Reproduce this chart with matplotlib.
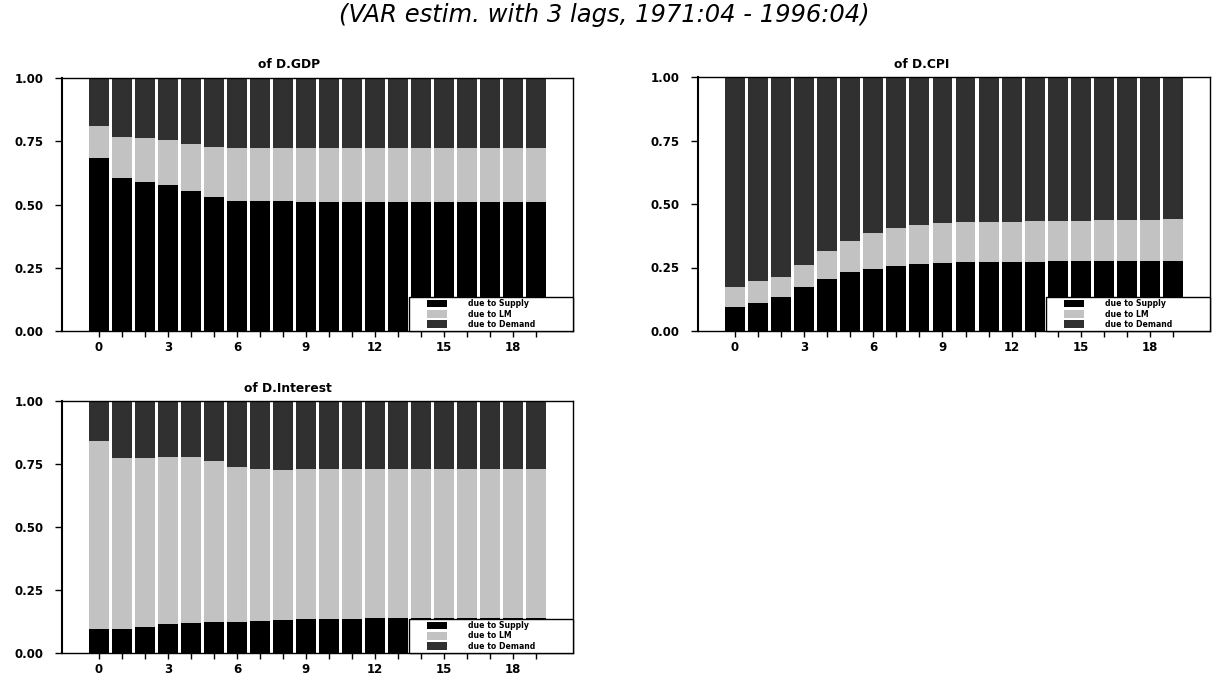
import matplotlib
matplotlib.use("Agg")
import matplotlib.pyplot as plt
from matplotlib.patches import Rectangle
import numpy as np

plt.rcParams['font.family'] = ['DejaVu Sans']

horizons = list(range(20))
tick_labels = ['0', '3', '6', '9', '12', '15', '18']
series_names = ['due to Supply', 'due to LM', 'due to Demand']

gdp_supply = [0.683, 0.604, 0.587, 0.579, 0.555, 0.530, 0.512, 0.512, 0.512, 0.510,
              0.510, 0.510, 0.510, 0.508, 0.508, 0.508, 0.508, 0.508, 0.508, 0.508]
gdp_lm_cum = [0.811, 0.765, 0.763, 0.756, 0.740, 0.727, 0.722, 0.722, 0.722, 0.723,
              0.723, 0.723, 0.723, 0.723, 0.723, 0.723, 0.723, 0.723, 0.723, 0.723]

cpi_supply = [0.096, 0.112, 0.133, 0.173, 0.206, 0.231, 0.245, 0.255, 0.262, 0.267,
              0.270, 0.272, 0.273, 0.273, 0.275, 0.276, 0.276, 0.276, 0.276, 0.276]
cpi_lm_cum = [0.175, 0.198, 0.212, 0.261, 0.314, 0.354, 0.384, 0.404, 0.419, 0.424,
              0.428, 0.429, 0.431, 0.432, 0.434, 0.435, 0.437, 0.437, 0.437, 0.439]

int_supply = [0.095, 0.095, 0.105, 0.114, 0.119, 0.123, 0.123, 0.127, 0.131, 0.133,
              0.135, 0.136, 0.137, 0.138, 0.138, 0.138, 0.138, 0.138, 0.138, 0.138]
int_lm_cum = [0.842, 0.775, 0.772, 0.779, 0.777, 0.760, 0.739, 0.730, 0.728, 0.730,
              0.730, 0.730, 0.730, 0.730, 0.730, 0.730, 0.730, 0.730, 0.730, 0.730]

panels = [
    ('of D.GDP', gdp_supply, gdp_lm_cum),
    ('of D.CPI', cpi_supply, cpi_lm_cum),
    ('of D.Interest', int_supply, int_lm_cum),
]

colors = ['#000000', '#c2c2c2', '#303030']

W, H = 1216, 675
fig = plt.figure(figsize=(W / 100, H / 100), dpi=100)

# axes rectangles in pixel coords: (left, top, right, bottom), title centre x, title y
rects = [(62, 78, 573, 331, 289, 64), (698, 77, 1210, 331, 922, 64),
         (62, 401, 573, 653, 288, 388)]

fig.text(604 / W, 1 - 15 / H, '(VAR estim. with 3 lags, 1971:04 - 1996:04)',
         ha='center', va='center', fontsize=17.5, style='italic')

for (title, sup, lmc), (l, t, r, b, tx, ty) in zip(panels, rects):
    ax = fig.add_axes([l / W, 1 - b / H, (r - l) / W, (b - t) / H])
    sup = np.array(sup)
    lmc = np.array(lmc)
    lm = lmc - sup
    dem = 1.0 - lmc
    x = np.array(horizons)
    w = 0.86
    ax.bar(x, sup, width=w, color=colors[0], label=series_names[0])
    ax.bar(x, lm, width=w, bottom=sup, color=colors[1], label=series_names[1])
    ax.bar(x, dem, width=w, bottom=lmc, color=colors[2], label=series_names[2])
    ax.set_xlim(-1.6, 20.6)
    ax.set_ylim(0, 1)
    ax.set_yticks([0, 0.25, 0.5, 0.75, 1.0])
    ax.set_yticklabels(['0.00', '0.25', '0.50', '0.75', '1.00'])
    ax.set_xticks(range(0, 19, 3))
    ax.set_xticklabels(tick_labels)
    ax.set_xticks(range(0, 20), minor=True)
    ax.tick_params(axis='y', which='major', direction='out', length=5,
                   width=1, labelsize=8.5, pad=8)
    ax.tick_params(axis='x', which='major', direction='out', length=4,
                   width=1, labelsize=8.5, pad=3)
    ax.tick_params(axis='x', which='minor', direction='out', length=4, width=1)
    for lab in ax.get_xticklabels() + ax.get_yticklabels():
        lab.set_fontweight('bold')
    for s in ax.spines.values():
        s.set_linewidth(1.0)
    ax.spines['left'].set_linewidth(1.5)
    fig.text(tx / W, 1 - ty / H, title, ha='center', va='center',
             fontsize=8.8, fontweight='bold')

    # legend box flush with lower-right corner
    bw = 164 / (r - l)
    bh = 34 / (b - t)
    ax.add_patch(Rectangle((1 - bw, 0), bw, bh, transform=ax.transAxes,
                           facecolor='white', edgecolor='black', linewidth=1.0,
                           zorder=5, clip_on=False))
    cx = 1 - bw + (72 / (r - l))
    leg = ax.legend(loc='center', bbox_to_anchor=(cx, bh / 2),
                    fontsize=5.6, frameon=False,
                    handlelength=2.6, handleheight=1.1, handletextpad=2.6,
                    labelspacing=0.15, borderpad=0.0)
    leg.set_zorder(6)
    for txt in leg.get_texts():
        txt.set_fontweight('bold')

fig.savefig('out.png', dpi=100, facecolor='white')
